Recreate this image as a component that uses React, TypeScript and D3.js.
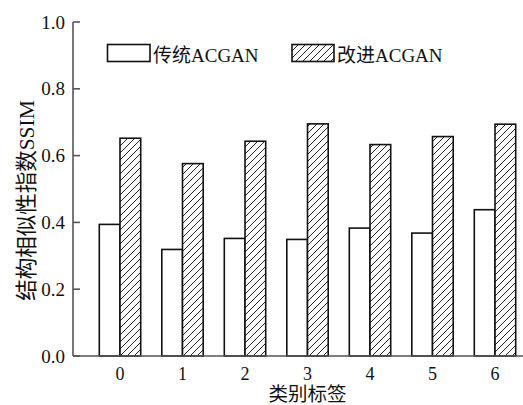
import React from "react";
import * as d3 from "d3";

// SSIM per class label for the two generators
const categories = ["0", "1", "2", "3", "4", "5", "6"];
const baselineSsim = [0.394, 0.319, 0.352, 0.349, 0.383, 0.368, 0.438];
const improvedSsim = [0.652, 0.576, 0.643, 0.695, 0.633, 0.657, 0.694];
const seriesNames = ["传统ACGAN", "改进ACGAN"];
const yTicks = [0, 0.2, 0.4, 0.6, 0.8, 1.0];

const W = 523;
const H = 405;
const axisX = 73;
const top = 22;
const bottom = 356;
const barW = 20.7;

const FONT = '"Liberation Serif", "Times New Roman", "Noto Sans CJK SC", serif';

export default function App() {
  const y = d3.scaleLinear().domain([0, 1]).range([bottom, top]);
  const x = d3.scalePoint<string>().domain(categories).range([120, 495]);
  const fmt = d3.format(".1f");

  return (
    <div style={{ position: "fixed", left: 0, top: 0 }}>
      <svg width={W} height={H} style={{ display: "block", background: "#fff" }}>
        <defs>
          <pattern id="hatch" patternUnits="userSpaceOnUse" width={7} height={7}>
            <rect width={7} height={7} fill="#fff" />
            <path
              d="M-1,1 L1,-1 M0,7 L7,0 M6,8 L8,6"
              stroke="#222"
              strokeWidth={1}
            />
          </pattern>
        </defs>

        {/* bars */}
        {categories.map((c, i) => {
          const cx = x(c)!;
          return (
            <g key={c}>
              <rect
                x={cx - barW}
                y={y(baselineSsim[i])}
                width={barW}
                height={y(0) - y(baselineSsim[i])}
                fill="#fff"
                stroke="#111"
                strokeWidth={1.6}
              />
              <rect
                x={cx}
                y={y(improvedSsim[i])}
                width={barW}
                height={y(0) - y(improvedSsim[i])}
                fill="url(#hatch)"
                stroke="#111"
                strokeWidth={1.6}
              />
            </g>
          );
        })}

        {/* y axis */}
        <line x1={axisX} x2={axisX} y1={top} y2={bottom} stroke="#555" strokeWidth={1.6} />
        {yTicks.map((t) => (
          <g key={t}>
            <line x1={axisX} x2={axisX + 7} y1={y(t)} y2={y(t)} stroke="#555" strokeWidth={1.6} />
            <text
              x={axisX - 8}
              y={y(t) + 6.5}
              textAnchor="end"
              fontFamily={FONT}
              fontSize={19}
              fill="#111"
            >
              {fmt(t)}
            </text>
          </g>
        ))}

        {/* x axis */}
        <line x1={axisX} x2={W} y1={bottom} y2={bottom} stroke="#555" strokeWidth={1.6} />
        {categories.map((c) => (
          <text
            key={c}
            x={x(c)!}
            y={379.5}
            textAnchor="middle"
            fontFamily={FONT}
            fontSize={18}
            fill="#111"
          >
            {c}
          </text>
        ))}

        {/* axis titles */}
        <text
          x={x("3")!}
          y={401}
          textAnchor="middle"
          fontFamily={FONT}
          fontSize={19.5}
          fill="#111"
        >
          类别标签
        </text>
        <text
          transform={`translate(34,${(93 + 308) / 2}) rotate(-90)`}
          textAnchor="middle"
          fontFamily={FONT}
          fontSize={21.5}
          fill="#111"
        >
          结构相似性指数SSIM
        </text>

        {/* legend */}
        <rect x={107.5} y={44.5} width={42.5} height={17} fill="#fff" stroke="#111" strokeWidth={1.6} />
        <text x={153} y={61.5} fontFamily={FONT} fontSize={19} fill="#111">
          {seriesNames[0]}
        </text>
        <rect x={292} y={44.5} width={42} height={17} fill="url(#hatch)" stroke="#111" strokeWidth={1.6} />
        <text x={337} y={61.5} fontFamily={FONT} fontSize={19} fill="#111">
          {seriesNames[1]}
        </text>
      </svg>
    </div>
  );
}
